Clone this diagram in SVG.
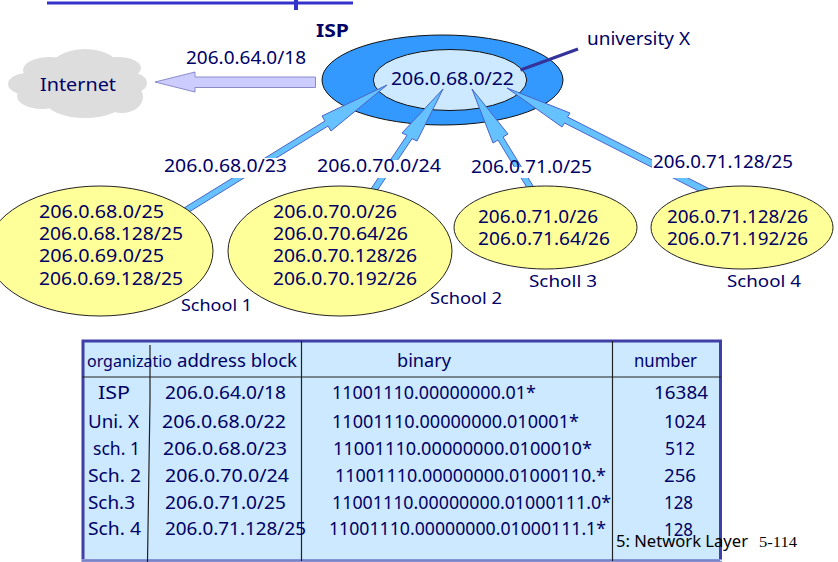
<svg xmlns="http://www.w3.org/2000/svg" width="838" height="562" viewBox="0 0 838 562">
<style>
text{font-family:"Noto Sans","DejaVu Sans",sans-serif;fill:#000066;font-size:18px}
.s{font-size:17px}
.arrow{fill:#66c2ff;stroke:#4a63c8;stroke-width:1;stroke-linejoin:miter}
.yellow{fill:#ffff99;stroke:#222;stroke-width:1}
.grid{stroke:#222;stroke-width:1.2;fill:none}
.white{fill:#fff}
</style>
<rect width="838" height="562" fill="#fff"/>
<g id="top-rule">
<path d="M47 3H353" stroke="#3333cc" stroke-width="3"/>
<path d="M296 0V10" stroke="#3333cc" stroke-width="4"/>
</g>
<g id="isp">
<ellipse cx="442.5" cy="80" rx="120.5" ry="45" fill="#3399ff" stroke="#111" stroke-width="1"/>
<ellipse cx="450" cy="80" rx="76.7" ry="30.5" fill="#cce9ff" stroke="#111" stroke-width="1"/>
</g>
<g id="connectors">
<polygon class="arrow" points="387,85 322,116 325,121 178.4,211.4 181.6,216.6 328,126 331,131"/>
<polygon class="arrow" points="443,89 402,133 407,135.3 368,193.3 373,196.7 412,138.7 417,141"/>
<polygon class="arrow" points="472,89 508,134 503,137 537.6,193.4 532.4,196.6 498,140 493,143"/>
<polygon class="arrow" points="507,88 570,113 567.5,117 721.5,195 718.5,201 564.5,123 562,127"/>
<polygon points="155,82 195,72 195,77 315.5,77 315.5,87.5 195,87.5 195,92" fill="#ccccff" stroke="#8a8acc" stroke-width="1"/>
<path d="M520.5 70L578 49" stroke="#333399" stroke-width="3"/>
</g>
<g id="isp-labels">
<text x="391" y="85" textLength="123" lengthAdjust="spacingAndGlyphs">206.0.68.0/22</text>
<text x="316" y="37" textLength="33" lengthAdjust="spacingAndGlyphs" style="font-weight:bold">ISP</text>
<text x="587" y="45" textLength="103" lengthAdjust="spacingAndGlyphs">university X</text>
</g>
<g id="internet">
<g fill="#dddddd">
<ellipse cx="78" cy="84" rx="58" ry="26"/>
<ellipse cx="85" cy="72" rx="37" ry="23"/>
<ellipse cx="50" cy="70" rx="27" ry="13"/>
<ellipse cx="118" cy="68" rx="23" ry="11"/>
<ellipse cx="28" cy="84" rx="20" ry="11"/>
<ellipse cx="133" cy="83" rx="14" ry="10"/>
<ellipse cx="42" cy="96" rx="25" ry="13"/>
<ellipse cx="85" cy="100" rx="40" ry="18"/>
<ellipse cx="122" cy="97" rx="21" ry="16"/>
</g>
<text x="40" y="91" textLength="76" lengthAdjust="spacingAndGlyphs">Internet</text>
</g>
<g id="route-labels">
<text x="186" y="64" textLength="120" lengthAdjust="spacingAndGlyphs">206.0.64.0/18</text>
<rect class="white" x="163" y="158" width="125" height="20"/>
<rect class="white" x="316" y="160" width="126" height="18"/>
<rect class="white" x="470" y="167" width="123" height="11"/>
<rect class="white" x="652" y="150" width="143" height="28"/>
<text x="164" y="172" textLength="123" lengthAdjust="spacingAndGlyphs">206.0.68.0/23</text>
<text x="317" y="172" textLength="124" lengthAdjust="spacingAndGlyphs">206.0.70.0/24</text>
<text x="471" y="173" textLength="121" lengthAdjust="spacingAndGlyphs">206.0.71.0/25</text>
<text x="653" y="168" textLength="140" lengthAdjust="spacingAndGlyphs">206.0.71.128/25</text>
</g>
<g id="school-1">
<ellipse class="yellow" cx="100" cy="251" rx="113" ry="65"/>
<text x="39" y="218" textLength="125" lengthAdjust="spacingAndGlyphs">206.0.68.0/25</text>
<text x="39" y="240" textLength="144" lengthAdjust="spacingAndGlyphs">206.0.68.128/25</text>
<text x="39" y="262" textLength="125" lengthAdjust="spacingAndGlyphs">206.0.69.0/25</text>
<text x="39" y="285" textLength="144" lengthAdjust="spacingAndGlyphs">206.0.69.128/25</text>
<text class="s" x="181" y="311" textLength="71" lengthAdjust="spacingAndGlyphs">School 1</text>
</g>
<g id="school-2">
<ellipse class="yellow" cx="340" cy="251" rx="112" ry="65"/>
<text x="273" y="218" textLength="124" lengthAdjust="spacingAndGlyphs">206.0.70.0/26</text>
<text x="273" y="240" textLength="135" lengthAdjust="spacingAndGlyphs">206.0.70.64/26</text>
<text x="273" y="262" textLength="144" lengthAdjust="spacingAndGlyphs">206.0.70.128/26</text>
<text x="273" y="285" textLength="144" lengthAdjust="spacingAndGlyphs">206.0.70.192/26</text>
<text class="s" x="430" y="304" textLength="72" lengthAdjust="spacingAndGlyphs">School 2</text>
</g>
<g id="school-3">
<ellipse class="yellow" cx="545.5" cy="227.5" rx="91.5" ry="41.5"/>
<text x="478" y="223" textLength="120" lengthAdjust="spacingAndGlyphs">206.0.71.0/26</text>
<text x="478" y="245" textLength="132" lengthAdjust="spacingAndGlyphs">206.0.71.64/26</text>
<text class="s" x="529" y="287" textLength="68" lengthAdjust="spacingAndGlyphs">Scholl 3</text>
</g>
<g id="school-4">
<ellipse class="yellow" cx="742" cy="227.5" rx="91" ry="41.5"/>
<text x="667" y="223" textLength="141" lengthAdjust="spacingAndGlyphs">206.0.71.128/26</text>
<text x="667" y="245" textLength="141" lengthAdjust="spacingAndGlyphs">206.0.71.192/26</text>
<text class="s" x="727" y="287" textLength="74" lengthAdjust="spacingAndGlyphs">School 4</text>
</g>
<g id="table">
<rect x="83" y="341" width="637.5" height="219.5" fill="#cce9ff" stroke="#3f3fa8" stroke-width="3"/>
<path d="M81.5 560.5H722" stroke="#cce9ff" stroke-width="2"/>
<path d="M82 560.5H720" stroke="#7f7fc4" stroke-width="1"/>
<path class="grid" d="M82 377H721M150 345V400L147.5 562M301.5 341V561M612.5 341V561"/>
<text class="s" x="87" y="367" textLength="85" lengthAdjust="spacingAndGlyphs">organizatio</text>
<text x="177" y="367" textLength="120" lengthAdjust="spacingAndGlyphs">address block</text>
<text x="397" y="367" textLength="54" lengthAdjust="spacingAndGlyphs">binary</text>
<text x="634" y="367" textLength="63" lengthAdjust="spacingAndGlyphs">number</text>
<text x="98" y="399" textLength="32" lengthAdjust="spacingAndGlyphs">ISP</text>
<text x="88" y="428" textLength="51" lengthAdjust="spacingAndGlyphs">Uni. X</text>
<text x="93" y="455" textLength="47" lengthAdjust="spacingAndGlyphs">sch. 1</text>
<text x="88" y="482" textLength="53" lengthAdjust="spacingAndGlyphs">Sch. 2</text>
<text x="88" y="509" textLength="47" lengthAdjust="spacingAndGlyphs">Sch.3</text>
<text x="88" y="535" textLength="53" lengthAdjust="spacingAndGlyphs">Sch. 4</text>
<text x="165" y="399" textLength="121" lengthAdjust="spacingAndGlyphs">206.0.64.0/18</text>
<text x="162" y="428" textLength="124" lengthAdjust="spacingAndGlyphs">206.0.68.0/22</text>
<text x="163" y="455" textLength="124" lengthAdjust="spacingAndGlyphs">206.0.68.0/23</text>
<text x="165" y="482" textLength="124" lengthAdjust="spacingAndGlyphs">206.0.70.0/24</text>
<text x="165" y="509" textLength="121" lengthAdjust="spacingAndGlyphs">206.0.71.0/25</text>
<text x="165" y="535" textLength="141" lengthAdjust="spacingAndGlyphs">206.0.71.128/25</text>
<text x="332" y="399" textLength="204" lengthAdjust="spacingAndGlyphs">11001110.00000000.01*</text>
<text x="332" y="428" textLength="247" lengthAdjust="spacingAndGlyphs">11001110.00000000.010001*</text>
<text x="333" y="455" textLength="259" lengthAdjust="spacingAndGlyphs">11001110.00000000.0100010*</text>
<text x="335" y="482" textLength="271" lengthAdjust="spacingAndGlyphs">11001110.00000000.01000110.*</text>
<text x="332" y="509" textLength="279" lengthAdjust="spacingAndGlyphs">11001110.00000000.01000111.0*</text>
<text x="329" y="535" textLength="277" lengthAdjust="spacingAndGlyphs">11001110.00000000.01000111.1*</text>
<text x="654" y="399" textLength="54" lengthAdjust="spacingAndGlyphs">16384</text>
<text x="664" y="428" textLength="42" lengthAdjust="spacingAndGlyphs">1024</text>
<text x="665" y="455" textLength="30" lengthAdjust="spacingAndGlyphs">512</text>
<text x="664" y="482" textLength="32" lengthAdjust="spacingAndGlyphs">256</text>
<text x="664" y="509" textLength="29" lengthAdjust="spacingAndGlyphs">128</text>
<text x="664" y="536" textLength="29" lengthAdjust="spacingAndGlyphs">128</text>
</g>
<g id="footer">
<text x="616" y="547" textLength="132" lengthAdjust="spacingAndGlyphs" style="fill:#000;font-size:16px">5: Network Layer</text>
<text x="759" y="547" textLength="38" lengthAdjust="spacingAndGlyphs" style="fill:#000;font-size:14px;font-family:'Liberation Serif',serif">5-114</text>
</g>
</svg>
